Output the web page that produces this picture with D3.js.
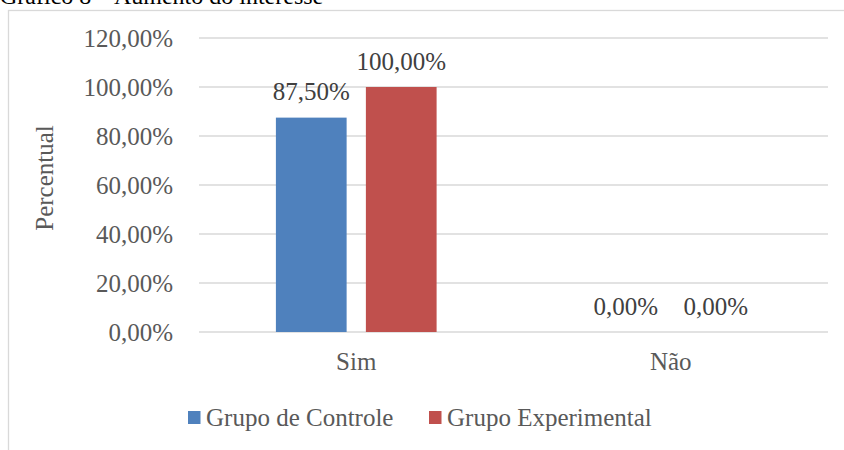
<!DOCTYPE html>
<html>
<head>
<meta charset="utf-8">
<script src="https://cdn.jsdelivr.net/npm/d3@7"></script>
<style>
  body { margin: 0; background: #fff; }
  svg { display: block; font-family: "Liberation Serif", "Times New Roman", serif; }
</style>
</head>
<body>
<div id="graph"></div>
<script>
const categories = ["Sim", "Não"];
const seriesNames = ["Grupo de Controle", "Grupo Experimental"];
const controle = [87.5, 0];
const experimental = [100, 0];
const yTicks = [0, 20, 40, 60, 80, 100, 120];

const colors = ["#4f81bd", "#c0504d"];
const w = 844, h = 450;
const plotLeft = 199, plotRight = 828, plotTop = 38, plotBottom = 332;

const fmt = v => d3.format(".2f")(v).replace(".", ",") + "%";

const rows = categories.map((c, i) => ({ cat: c, values: [controle[i], experimental[i]] }));

const svg = d3.select("#graph")
              .append("svg")
              .attr("width", w)
              .attr("height", h);

// title (cut off at the top)
svg.append("text")
   .attr("x", 0)
   .attr("y", 4)
   .style("font-size", "24px")
   .attr("fill", "#000")
   .text("Gráfico 8 – Aumento do interesse");

// chart border
svg.append("rect")
   .attr("x", 8.5)
   .attr("y", 10.5)
   .attr("width", w)
   .attr("height", h)
   .attr("fill", "none")
   .attr("stroke", "#d9d9d9")
   .attr("stroke-width", 1.3);

const yScale = d3.scaleLinear()
                 .domain([0, 120])
                 .range([plotBottom, plotTop]);

const x0 = d3.scaleBand()
             .domain(categories)
             .range([plotLeft, plotRight]);

const groupW = 160.7;
const x1 = d3.scaleBand()
             .domain(seriesNames)
             .range([(x0.bandwidth() - groupW) / 2, (x0.bandwidth() + groupW) / 2])
             .paddingInner(0.214);

// gridlines
svg.append("g")
   .selectAll("line")
   .data(yTicks)
   .enter()
   .append("line")
   .attr("x1", plotLeft)
   .attr("x2", plotRight)
   .attr("y1", d => yScale(d))
   .attr("y2", d => yScale(d))
   .attr("stroke", "#d9d9d9")
   .attr("stroke-width", 1.3);

// y axis labels
const yAxis = d3.axisLeft(yScale)
                .tickValues(yTicks)
                .tickFormat(fmt)
                .tickSize(0)
                .tickPadding(26);

const gy = svg.append("g")
              .attr("transform", `translate(${plotLeft}, 0)`)
              .call(yAxis);
gy.select(".domain").remove();
gy.selectAll("text")
  .style("font-size", "25px")
  .style("font-family", "Liberation Serif, serif")
  .attr("fill", "#595959");

// x axis labels
const xAxis = d3.axisBottom(x0).tickSize(0).tickPadding(20);
const gx = svg.append("g")
              .attr("transform", `translate(0, ${plotBottom})`)
              .call(xAxis);
gx.select(".domain").remove();
gx.selectAll("text")
  .style("font-size", "25px")
  .style("font-family", "Liberation Serif, serif")
  .attr("fill", "#595959");

// bars
const groups = svg.selectAll(".grp")
                  .data(rows)
                  .enter()
                  .append("g")
                  .attr("class", "grp")
                  .attr("transform", d => `translate(${x0(d.cat)}, 0)`);

groups.selectAll("rect")
      .data(d => d.values.map((v, i) => ({ s: seriesNames[i], v: v, i: i })))
      .enter()
      .append("rect")
      .attr("x", d => x1(d.s))
      .attr("width", x1.bandwidth())
      .attr("y", d => yScale(d.v))
      .attr("height", d => yScale(0) - yScale(d.v))
      .attr("fill", d => colors[d.i]);

groups.selectAll(".lbl")
      .data(d => d.values.map((v, i) => ({ s: seriesNames[i], v: v })))
      .enter()
      .append("text")
      .attr("class", "lbl")
      .attr("x", d => x1(d.s) + x1.bandwidth() / 2)
      .attr("y", d => yScale(d.v) - 17.5)
      .attr("text-anchor", "middle")
      .style("font-size", "25px")
      .attr("fill", "#404040")
      .text(d => fmt(d.v));

// y axis title
svg.append("text")
   .attr("transform", "rotate(-90)")
   .attr("x", -178)
   .attr("y", 53)
   .attr("text-anchor", "middle")
   .style("font-size", "25px")
   .attr("fill", "#595959")
   .text("Percentual");

// legend
const legendX = [188, 429];
const legend = svg.append("g")
                  .selectAll("g")
                  .data(seriesNames)
                  .enter()
                  .append("g")
                  .attr("transform", (d, i) => `translate(${legendX[i]}, 0)`);

legend.append("rect")
      .attr("x", 0)
      .attr("y", 411)
      .attr("width", 12.5)
      .attr("height", 13)
      .attr("fill", (d, i) => colors[i]);

legend.append("text")
      .attr("x", 18)
      .attr("y", 425.5)
      .style("font-size", "25px")
      .attr("fill", "#595959")
      .text(d => d);
</script>
</body>
</html>
